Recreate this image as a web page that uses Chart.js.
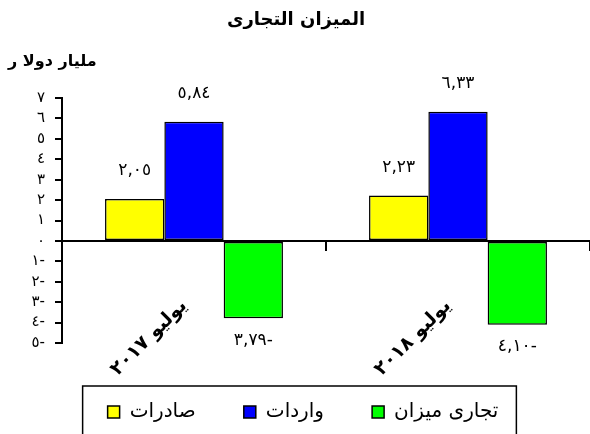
<!DOCTYPE html>
<html>
<head>
<meta charset="utf-8">
<script src="https://cdn.jsdelivr.net/npm/chart.js@4/dist/chart.umd.min.js"></script>
<style>
  html, body { margin: 0; padding: 0; background: #fff; }
  #wrap { width: 590px; height: 434px; }
</style>
</head>
<body>
<div id="wrap"><canvas id="balanceChart" width="590" height="434"></canvas></div>
<script>
const chartTitle = 'الميزان التجارى';
const unitLabel = 'مليار دولا ر';
const categories = ['يوليو ٢٠١٧', 'يوليو ٢٠١٨'];
const seriesNames = ['صادرات', 'واردات', 'تجارى ميزان'];
const exportsValues = [2.05, 2.23];
const importsValues = [5.84, 6.33];
const balanceValues = [-3.79, -4.10];
const yMin = -5;
const yMax = 7;

const arabicDigits = '٠١٢٣٤٥٦٧٨٩';

function toArabic(str) {
  return String(str).replace(/\d/g, (d) => arabicDigits[d]);
}

function formatTick(v) {
  return toArabic(Math.abs(v)) + (v < 0 ? '-' : '');
}

function formatValue(v) {
  return toArabic(Math.abs(v).toFixed(2)).replace('.', ',') + (v < 0 ? '-' : '');
}

const decorPlugin = {
  id: 'decor',
  afterDatasetsDraw(chart) {
    const ctx = chart.ctx;
    const xScale = chart.scales.x;
    const zeroY = chart.scales.y.getPixelForValue(0);
    ctx.save();
    ctx.fillStyle = '#000';

    // value labels
    ctx.font = '17px "DejaVu Sans"';
    ctx.textAlign = 'center';
    ctx.textBaseline = 'middle';
    chart.data.datasets.forEach((ds, i) => {
      chart.getDatasetMeta(i).data.forEach((bar, j) => {
        const v = ds.data[j];
        const y = v >= 0 ? bar.y - 28 : bar.y + 22;
        ctx.fillText(formatValue(v), bar.x, y);
      });
    });

    // rotated category labels
    ctx.font = 'bold 19px "DejaVu Sans"';
    ctx.textAlign = 'right';
    ctx.textBaseline = 'middle';
    categories.forEach((label, j) => {
      const cx = xScale.getPixelForValue(j);
      ctx.save();
      ctx.translate(cx - 10, zeroY + 62);
      ctx.rotate(-Math.PI / 4);
      ctx.fillText(label, 0, 0);
      ctx.restore();
    });

    // title and unit
    ctx.textBaseline = 'middle';
    ctx.textAlign = 'center';
    ctx.font = 'bold 18px "DejaVu Sans"';
    ctx.fillText(chartTitle, 296, 20);
    ctx.textAlign = 'left';
    ctx.font = 'bold 16px "DejaVu Sans"';
    ctx.fillText(unitLabel, 8, 62);
    ctx.restore();
  },
  afterDraw(chart) {
    const boxes = chart.legend.legendHitBoxes;
    if (!boxes || !boxes.length) return;
    const first = boxes[0];
    const last = boxes[boxes.length - 1];
    const ctx = chart.ctx;
    ctx.save();
    ctx.strokeStyle = '#000';
    ctx.lineWidth = 1.5;
    const left = first.left - 25;
    const right = last.left + last.width + 18;
    const top = first.top - 16;
    ctx.strokeRect(left, top, right - left, chart.height + 5 - top);
    ctx.restore();
  },
};

const colors = ['#ffff00', '#0000ff', '#00ff00'];
const valueSets = [exportsValues, importsValues, balanceValues];

new Chart(document.getElementById('balanceChart'), {
  type: 'bar',
  data: {
    labels: categories,
    datasets: seriesNames.map((name, i) => ({
      label: name,
      data: valueSets[i],
      backgroundColor: colors[i],
      borderColor: '#000',
      borderWidth: 1.5,
      borderSkipped: false,
      categoryPercentage: 0.674,
      barPercentage: 1,
    })),
  },
  options: {
    responsive: false,
    animation: false,
    layout: { padding: { top: 98, left: 16, right: 0, bottom: 2 } },
    plugins: {
      title: { display: false },
      tooltip: { enabled: false },
      legend: {
        position: 'bottom',
        labels: {
          color: '#000',
          font: { size: 20, family: '"DejaVu Sans"' },
          boxWidth: 12,
          boxHeight: 12,
          padding: 10,
          generateLabels(chart) {
            const items = Chart.defaults.plugins.legend.labels.generateLabels(chart);
            items.forEach((item, i) => {
              if (i < items.length - 1) item.text += '\u00a0'.repeat(6);
            });
            return items;
          },
        },
      },
    },
    scales: {
      x: {
        position: { y: 0 },
        ticks: { display: false },
        grid: { offset: true, drawOnChartArea: false, color: '#000', lineWidth: 2, tickLength: 9 },
        border: { color: '#000', width: 2 },
      },
      xs: {
        type: 'category',
        position: 'bottom',
        ticks: { display: false },
        grid: { display: false },
        border: { display: false },
        afterFit(scale) { scale.height = 49; },
      },
      y: {
        min: yMin,
        max: yMax,
        afterFit(scale) { scale.width = 46; },
        ticks: {
          stepSize: 1,
          autoSkip: false,
          padding: 10,
          color: '#000',
          font: { size: 15, family: '"DejaVu Sans"' },
          callback: (v) => formatTick(v),
        },
        grid: { drawOnChartArea: false, color: '#000', lineWidth: 2, tickLength: 7 },
        border: { color: '#000', width: 2 },
      },
    },
  },
  plugins: [decorPlugin],
});
</script>
</body>
</html>
